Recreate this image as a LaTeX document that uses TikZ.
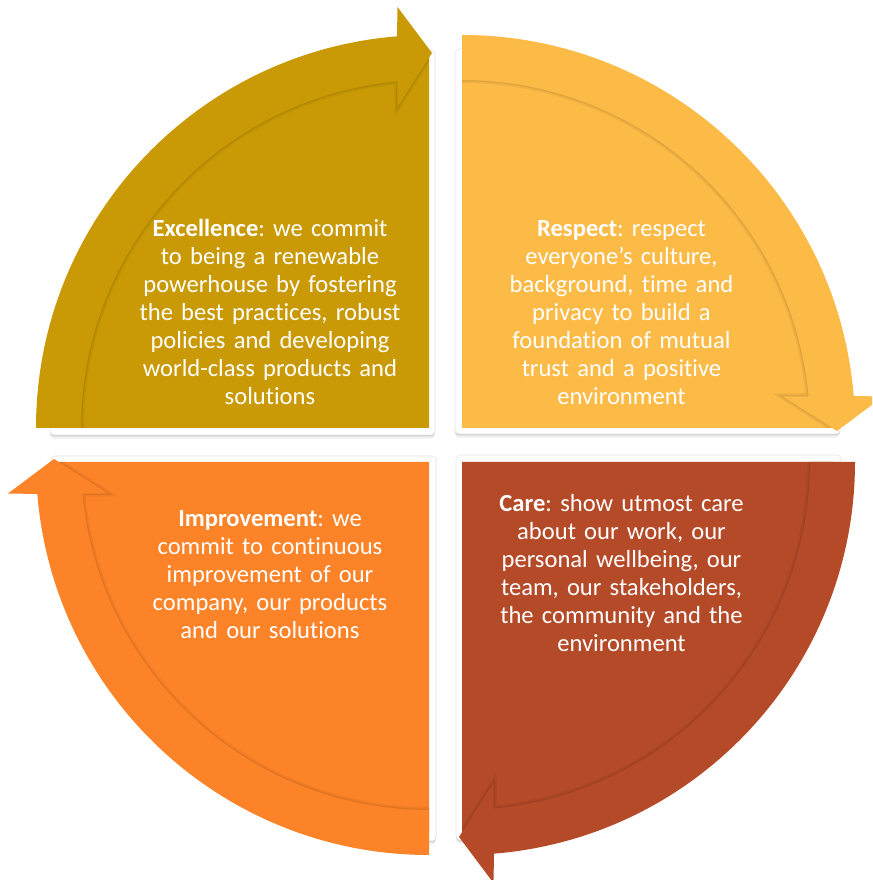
\documentclass[tikz,border=0pt]{standalone}
\usepackage{fontspec}
\setmainfont{Carlito}[Ligatures=NoCommon]
\frenchspacing

% Shapes of one quadrant, drawn in a local frame whose origin is the
% inner corner of the coloured wedge (top-left quadrant orientation).
\newcommand\arrowband{(180:393) arc[start angle=180,end angle=94.67,radius=393]
  -- (-31.5,421) -- (3,375) -- (-31.5,321)
  -- (95.2:348) arc[start angle=95.2,end angle=180,radius=348] -- cycle}
\newcommand\fillwedge{(0,0) -- (180:371) arc[start angle=180,end angle=90,radius=371] -- cycle}
\newcommand\cardwedge{(6,-7) -- (-379,-7) arc[start angle=180,end angle=90,radius=385] -- cycle}

% White backing card with a soft drop shadow
\newcommand\valuecard[2]{%
  \foreach \dy/\op in {-1/.10,-2.5/.07,-4/.04}{%
    \begin{scope}[yshift=\dy pt]
      \begin{scope}[shift={#1},rotate=#2]
        \fill[black,opacity=\op,rounded corners=4] \cardwedge;
      \end{scope}
    \end{scope}}%
  \begin{scope}[shift={#1},rotate=#2]
    \filldraw[fill=white,draw=black!10,line width=.6,rounded corners=4] \cardwedge;
  \end{scope}}

% Coloured wedge with its curved arrow
\newcommand\valuequadrant[3]{%
  \begin{scope}[shift={#1},rotate=#2]
    \fill[#3] \fillwedge;
    \begin{scope}
      \clip \fillwedge;
      \draw[black,opacity=.05,line width=6] \arrowband;
      \draw[black,opacity=.07,line width=2.5] \arrowband;
    \end{scope}
    \fill[#3] \arrowband;
  \end{scope}}

\begin{document}
\begin{tikzpicture}[x=1pt,y=1pt,
  valuetext/.style={text=white,font=\fontsize{24.6}{28}\selectfont,align=center,
    text width=320pt,inner sep=0pt,anchor=base}]
\definecolor{excelcol}{RGB}{201,154,5}
\definecolor{respectcol}{RGB}{252,186,70}
\definecolor{improvecol}{RGB}{253,131,40}
\definecolor{carecol}{RGB}{181,74,40}

\useasboundingbox (0,0) rectangle (872,880);
\clip (0,0) rectangle (872,880);

% backing cards
\valuecard{(429,452)}{0}
\valuecard{(462,452)}{-90}
\valuecard{(462,418)}{180}
\valuecard{(429,418)}{90}

% quadrants with their arrows
\valuequadrant{(429,452)}{0}{excelcol}
\valuequadrant{(462,452)}{-90}{respectcol}
\valuequadrant{(462,418)}{180}{carecol}
\valuequadrant{(429,418)}{90}{improvecol}

% texts
\node[valuetext] (excellence) at (270,643) {\textbf{Excellence}: we commit\\
  to being a renewable\\ powerhouse by fostering\\ the best practices, robust\\
  policies and developing\\ world-class products and\\ solutions};
\node[valuetext] (respect) at (621.5,643) {\textbf{Respect}: respect\\
  everyone’s culture,\\ background, time and\\ privacy to build a\\
  foundation of mutual\\ trust and a positive\\ environment};
\node[valuetext] (improvement) at (270,353) {\textbf{Improvement}: we\\
  commit to continuous\\ improvement of our\\ company, our products\\
  and our solutions};
\node[valuetext] (care) at (621.5,368) {\textbf{Care}: show utmost care\\
  about our work, our\\ personal wellbeing, our\\ team, our stakeholders,\\
  the community and the\\ environment};
\end{tikzpicture}
\end{document}
